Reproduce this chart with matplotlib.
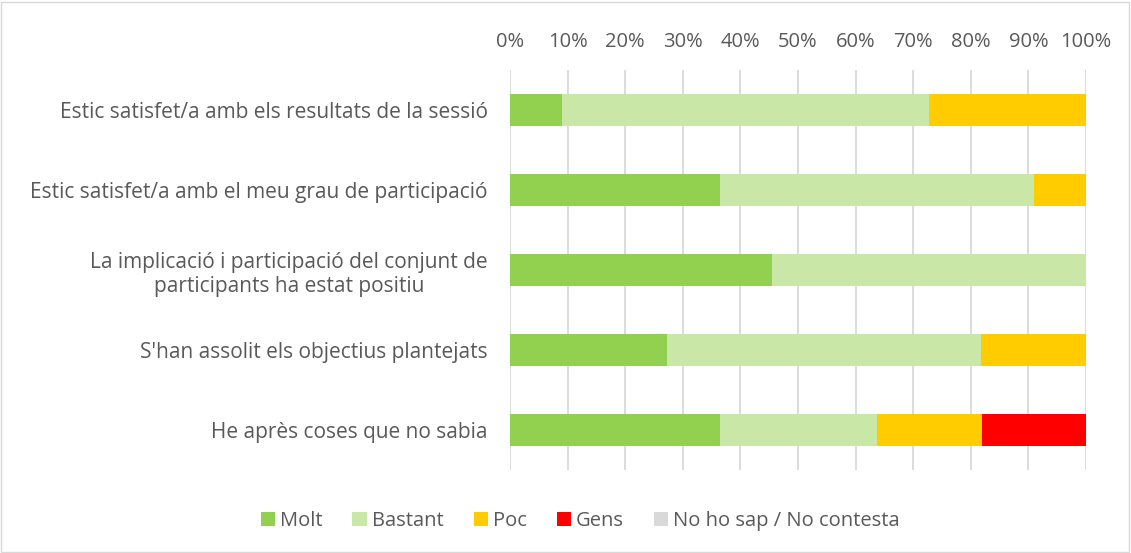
import numpy as np
import matplotlib.pyplot as plt
from matplotlib.patches import Rectangle

plt.rcParams['font.family'] = ['Open Sans', 'DejaVu Sans']

categories = [
    "Estic satisfet/a amb els resultats de la sessió",
    "Estic satisfet/a amb el meu grau de participació",
    "La implicació i participació del conjunt de\nparticipants ha estat positiu",
    "S'han assolit els objectius plantejats",
    "He après coses que no sabia",
]
series_names = ["Molt", "Bastant", "Poc", "Gens", "No ho sap / No contesta"]
molt = [9.1, 36.4, 45.5, 27.3, 36.4]
bastant = [63.6, 54.5, 54.5, 54.5, 27.3]
poc = [27.3, 9.1, 0.0, 18.2, 18.2]
gens = [0.0, 0.0, 0.0, 0.0, 18.2]
nosap = [0.0, 0.0, 0.0, 0.0, 0.0]
colors = ["#92D050", "#C9E7A7", "#FFCC00", "#FF0000", "#D9D9D9"]
ticks = [0, 10, 20, 30, 40, 50, 60, 70, 80, 90, 100]

text_col = "#595959"

fig = plt.figure(figsize=(11.31, 5.53), dpi=100)
ax = fig.add_axes([0.4509, 0.150, 0.5093, 0.7234])

y = np.arange(len(categories))
left = np.zeros(len(categories))
for name, vals, c in zip(series_names, [molt, bastant, poc, gens, nosap], colors):
    ax.barh(y, vals, left=left, height=0.39, color=c, label=name, zorder=3)
    left += np.array(vals)

ax.set_xlim(0, 100)
ax.set_ylim(len(categories) - 0.5, -0.5)
ax.set_yticks(y)
ax.set_yticklabels(categories, multialignment='center', linespacing=1.2)
ax.set_xticks(ticks)
ax.set_xticklabels([f"{t}%" for t in ticks])
ax.xaxis.tick_top()
ax.tick_params(axis='both', length=0, colors=text_col, labelsize=14.5)
ax.tick_params(axis='y', pad=16, labelsize=15)
ax.tick_params(axis='x', pad=13)
ax.grid(axis='x', color='#D9D9D9', linewidth=1.3, zorder=0)
for s in ax.spines.values():
    s.set_visible(False)

leg = fig.legend(loc='center', bbox_to_anchor=(0.513, 0.058), ncol=5, frameon=False,
                 handlelength=0.7, handleheight=0.7, handletextpad=0.25,
                 columnspacing=1.5, fontsize=14.5)
for t in leg.get_texts():
    t.set_color(text_col)

fig.patches.append(Rectangle((0.001, 0.002), 0.997, 0.995, transform=fig.transFigure,
                             fill=False, edgecolor='#D9D9D9', linewidth=1))

fig.savefig("out.png", dpi=100)
